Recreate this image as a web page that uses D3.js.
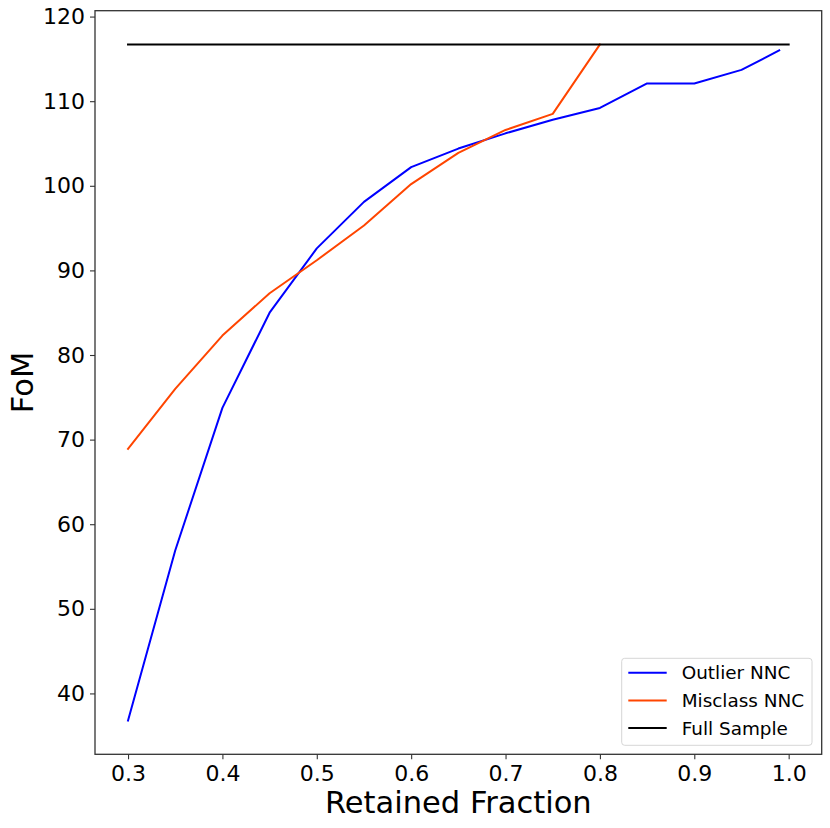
<!DOCTYPE html>
<html>
<head>
<meta charset="utf-8">
<script src="https://cdn.jsdelivr.net/npm/d3@7"></script>
<style>
  body { margin: 0; background: #fff; }
  svg { display: block; font-family: "DejaVu Sans", sans-serif; }
</style>
</head>
<body>
<svg id="chart" width="830" height="828"></svg>
<script>
// ---- data ----
const outlierX = [0.30, 0.35, 0.40, 0.45, 0.50, 0.55, 0.60, 0.65, 0.70, 0.75, 0.80, 0.85, 0.90, 0.95, 0.99];
const outlierY = [36.8, 56.9, 73.75, 85.0, 92.6, 98.1, 102.2, 104.4, 106.2, 107.8, 109.2, 112.1, 112.1, 113.7, 116.0];
const misclassX = [0.30, 0.35, 0.40, 0.45, 0.50, 0.55, 0.60, 0.65, 0.70, 0.75, 0.80];
const misclassY = [68.9, 76.0, 82.3, 87.3, 91.2, 95.3, 100.2, 103.9, 106.6, 108.5, 116.7];
const fullX = [0.30, 1.00];
const fullY = [116.7, 116.7];
const xTicks = [0.3, 0.4, 0.5, 0.6, 0.7, 0.8, 0.9, 1.0];
const yTicks = [40, 50, 60, 70, 80, 90, 100, 110, 120];
const seriesNames = ["Outlier NNC", "Misclass NNC", "Full Sample"];
const seriesColors = ["#0000ff", "#ff4500", "#000000"];

// ---- layout ----
const svg = d3.select("#chart");
svg.append("rect").attr("width", 830).attr("height", 828).attr("fill", "#fff");
const L = 95, R = 821.7, T = 10.7, B = 754.3;

// matplotlib-style 5% margins derived from the data
const allX = outlierX.concat(misclassX, fullX);
const allY = outlierY.concat(misclassY, fullY);
const [x0, x1] = d3.extent(allX), [y0, y1] = d3.extent(allY);
const mx = (x1 - x0) * 0.05, my = (y1 - y0) * 0.05;
const x = d3.scaleLinear().domain([x0 - mx, x1 + mx]).range([L, R]);
const y = d3.scaleLinear().domain([y0 - my, y1 + my]).range([B, T]);

// axes
const xAxis = svg.append("g").attr("transform", `translate(0,${B})`)
  .call(d3.axisBottom(x).tickValues(xTicks).tickFormat(d3.format(".1f")).tickSizeOuter(0).tickSize(5).tickPadding(6));
const yAxis = svg.append("g").attr("transform", `translate(${L},0)`)
  .call(d3.axisLeft(y).tickValues(yTicks).tickFormat(d3.format("d")).tickSizeOuter(0).tickSize(5).tickPadding(5));
[xAxis, yAxis].forEach(g => {
  g.select(".domain").remove();
  g.selectAll(".tick line").attr("stroke", "#333").attr("stroke-width", 1.1);
  g.selectAll(".tick text").attr("fill", "#000").style("font-size", "22px").style("font-family", "DejaVu Sans");
});

// frame
svg.append("rect").attr("x", L).attr("y", T).attr("width", R - L).attr("height", B - T)
  .attr("fill", "none").attr("stroke", "#333").attr("stroke-width", 1.3);

// clip
svg.append("clipPath").attr("id", "clip").append("rect")
  .attr("x", L).attr("y", T).attr("width", R - L).attr("height", B - T);

const line = d3.line().x(d => x(d[0])).y(d => y(d[1]));
const series = [
  d3.zip(outlierX, outlierY),
  d3.zip(misclassX, misclassY),
  d3.zip(fullX, fullY)
];
const plot = svg.append("g").attr("clip-path", "url(#clip)");
series.forEach((s, i) => {
  plot.append("path").datum(s).attr("d", line)
    .attr("fill", "none").attr("stroke", seriesColors[i]).attr("stroke-width", 2)
    .attr("stroke-linejoin", "round").attr("stroke-linecap", "square");
});

// axis labels
svg.append("text").attr("x", (L + R) / 2).attr("y", 813).attr("text-anchor", "middle")
  .style("font-size", "30.5px").text("Retained Fraction");
svg.append("text").attr("transform", `translate(33,${(T + B) / 2}) rotate(-90)`)
  .attr("text-anchor", "middle").style("font-size", "30.5px").text("FoM");

// legend
const lg = svg.append("g");
lg.append("rect").attr("x", 621.7).attr("y", 658.3).attr("width", 190.3).attr("height", 87)
  .attr("rx", 3).attr("fill", "#fff").attr("fill-opacity", 0.8).attr("stroke", "#d6d6d6").attr("stroke-width", 1);
seriesNames.forEach((n, i) => {
  const yy = 672.7 + i * 27.7;
  lg.append("line").attr("x1", 628.3).attr("x2", 666.7).attr("y1", yy).attr("y2", yy)
    .attr("stroke", seriesColors[i]).attr("stroke-width", 2);
  lg.append("text").attr("x", 681.7).attr("y", yy + 6.5).style("font-size", "18.4px").text(n);
});
</script>
</body>
</html>
